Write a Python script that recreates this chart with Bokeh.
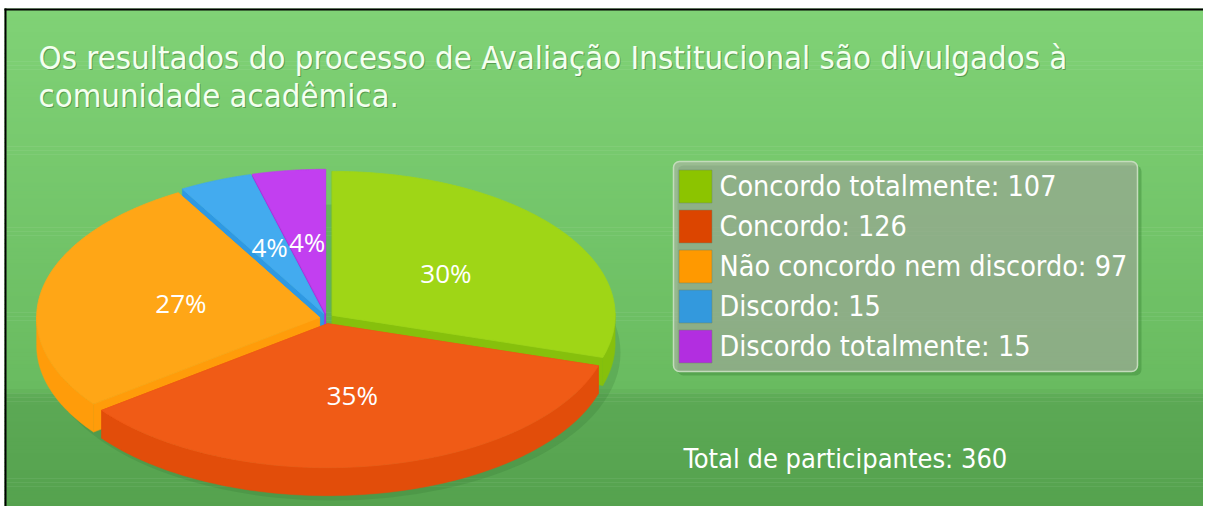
import numpy as np
from bokeh.plotting import figure
from bokeh.models import Range1d
from bokeh.core.properties import value
from bokeh.embed import file_html
from bokeh.resources import INLINE

# ---- data ----
categories = ["Concordo totalmente", "Concordo", "Não concordo nem discordo", "Discordo", "Discordo totalmente"]
counts = [107, 126, 97, 15, 15]
top_colors = ["#9fd616", "#f05b16", "#ffa616", "#43abef", "#c23ff0"]
wall_colors = ["#86c00c", "#e24d0a", "#ff9c0a", "#2f99e2", "#ad2edc"]
legend_colors = ["#8cc400", "#dc4500", "#ff9900", "#3399dd", "#b22ee0"]
title_lines = ["Os resultados do processo de Avaliação Institucional são divulgados à",
               "comunidade acadêmica."]
total_label = "Total de participantes"

W, H = 1203, 506
p = figure(width=W, height=H, output_backend="svg", toolbar_location=None,
           x_range=Range1d(0, W), y_range=Range1d(H, 0),
           min_border=0, outline_line_color=None)
p.axis.visible = False
p.grid.visible = False
p.background_fill_color = "white"
p.border_fill_color = "white"

BX, BY = 4, 8  # frame origin

# ---- background gradient ----
def hex2rgb(h):
    h = h.lstrip("#")
    return np.array([int(h[i:i + 2], 16) for i in (0, 2, 4)], dtype=float)

stops = [(8, "#80d276"), (388, "#69bb60"), (396, "#5ca955"), (508, "#55a24e")]
sy = np.array([s[0] for s in stops], dtype=float)
sc = np.array([hex2rgb(s[1]) for s in stops])
edges = np.linspace(BY, H, 124)
tops_, bots_, cols_ = [], [], []
for a, b in zip(edges[:-1], edges[1:]):
    m = (a + b) / 2
    c = [np.interp(m, sy, sc[:, k]) for k in range(3)]
    tops_.append(a)
    bots_.append(b + 0.6)
    cols_.append("#%02x%02x%02x" % tuple(int(round(v)) for v in c))
p.quad(left=BX, right=W, top=tops_, bottom=bots_, fill_color=cols_, line_color=None)

# frame lines (top, left)
p.segment(x0=[BX, BX + 1], y0=[BY + 1, BY], x1=[W, BX + 1], y1=[BY + 1, H],
          line_color="black", line_width=2)

# ---- title ----
tfont = value("DejaVu Sans Condensed")
for i, line in enumerate(title_lines):
    ym = 57 + 38 * i
    p.text(x=[39], y=[ym + 1.5], text=[line], text_font=tfont, text_font_size="32.7px",
           text_color="#3d7a36", text_alpha=0.6, text_baseline="middle")
    p.text(x=[38], y=[ym], text=[line], text_font=tfont, text_font_size="32.7px",
           text_color="#f4fff0", text_baseline="middle")

# ---- 3D pie ----
cx, cy, rx, ry, depth, expl = 326, 318, 283, 144, 28, 7
total = sum(counts)

def pt(t, ox, oy, r=1.0):
    return cx + ox + r * rx * np.cos(t), cy + oy - r * ry * np.sin(t)

# soft shadow
p.ellipse(x=[cx + 6], y=[cy + depth + 6], width=[2 * rx + 10], height=[2 * ry + 8],
          fill_color="#2f6b2a", fill_alpha=0.18, line_color=None)

slices = []
start = np.pi / 2
for i, v in enumerate(counts):
    ang = 2 * np.pi * v / total
    a0, a1 = start, start - ang  # clockwise
    mid = (a0 + a1) / 2
    ox, oy = expl * np.cos(mid), -expl * np.sin(mid) * 0.75
    slices.append((i, a0, a1, mid, ox, oy))
    start = a1

order = sorted(slices, key=lambda s: -np.sin(s[3]))
lab_x, lab_y, lab_t = [], [], []
for (i, a0, a1, mid, ox, oy) in order:
    ts = np.linspace(a0, a1, 120)
    for te in (a0, a1):
        ex, ey = pt(te, ox, oy)
        p.patch(x=[cx + ox, ex, ex, cx + ox], y=[cy + oy, ey, ey + depth, cy + oy + depth],
                fill_color=wall_colors[i], line_color=wall_colors[i], line_width=0.5)
    front = ts[np.sin(ts) < 0.02]
    if len(front) > 1:
        xs, ys = pt(front, ox, oy)
        wx = list(xs) + list(xs[::-1])
        wy = list(ys) + list((ys + depth)[::-1])
        p.patch(x=wx, y=wy, fill_color=wall_colors[i], line_color=wall_colors[i], line_width=0.5)
    xs, ys = pt(ts, ox, oy)
    p.patch(x=[cx + ox] + list(xs), y=[cy + oy] + list(ys),
            fill_color=top_colors[i], line_color=top_colors[i], line_width=0.8)
    lx, ly = pt(mid, ox, oy, 0.5)
    lab_x.append(lx)
    lab_y.append(ly)
    lab_t.append("%d%%" % round(100 * counts[i] / total))

p.text(x=lab_x, y=lab_y, text=lab_t, text_font=value("Open Sans"), text_font_size="26px",
       text_color="white", text_align="center", text_baseline="middle")

# ---- legend ----
lx0, lx1, ly0, ly1 = 673, 1137, 161, 371
p.quad(left=[lx0 + 4], right=[lx1 + 4], top=[ly0 + 4], bottom=[ly1 + 4],
       fill_color="#3f8a3a", fill_alpha=0.45, line_color=None, border_radius=6)
p.quad(left=[lx0], right=[lx1], top=[ly0], bottom=[ly1],
       fill_color="#b4b4ac", fill_alpha=0.58, line_color="#c4dcbc", line_width=1.5,
       border_radius=6)
row_y = [186 + 40 * k for k in range(len(categories))]
p.rect(x=[695] * len(categories), y=row_y, width=33, height=33,
       fill_color=legend_colors, line_color="#6e8a66", line_alpha=0.5, line_width=1)
leg_text = ["%s: %d" % (c, v) for c, v in zip(categories, counts)]
p.text(x=[719] * len(categories), y=row_y, text=leg_text, text_font=tfont,
       text_font_size="28.5px", text_color="white", text_baseline="middle")

# ---- total ----
p.text(x=[683], y=[458], text=["%s: %d" % (total_label, total)], text_font=tfont,
       text_font_size="27px", text_color="white", text_baseline="middle")

open("out.html", "w").write(file_html(p, INLINE))
